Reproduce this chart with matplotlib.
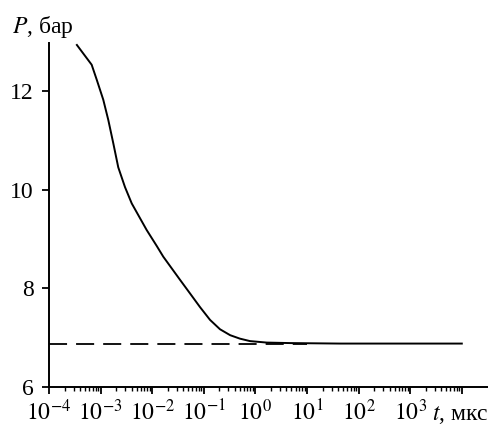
import numpy as np
import matplotlib
matplotlib.use("Agg")
import matplotlib.pyplot as plt
from matplotlib.ticker import FixedLocator, FixedFormatter, NullFormatter

plt.rcParams['font.family'] = ['Liberation Serif', 'DejaVu Serif']
plt.rcParams['mathtext.fontset'] = 'stix'

# pressure relaxation curve
t_us = [3.47e-4, 6.71e-4, 8.39e-4, 1.127e-3, 1.41e-3, 1.76e-3, 2.20e-3,
        2.97e-3, 4.01e-3, 5.81e-3, 7.82e-3, 1.22e-2, 1.64e-2, 3.47e-2,
        5.37e-2, 8.43e-2, 0.132, 0.206, 0.324, 0.50, 0.785, 1.66, 4.68,
        43.7, 1.0e4]
p_bar = [12.93, 12.53, 12.23, 11.82, 11.41, 10.94, 10.45,
         10.05, 9.72, 9.42, 9.18, 8.86, 8.64, 8.17,
         7.90, 7.62, 7.36, 7.17, 7.05, 6.98, 6.93, 6.90, 6.89,
         6.88, 6.88]

# equilibrium level (dashed)
t_eq = [1e-4, 10.0]
p_eq = [6.875, 6.875]

decades = [-4, -3, -2, -1, 0, 1, 2, 3, 4]
y_ticks = [6, 8, 10, 12]

fig = plt.figure(figsize=(4.89, 4.25), dpi=100)
ax = fig.add_axes([49 / 489, 1 - 387 / 425, 1 - 49 / 489, (387 - 43) / 425])

ax.plot(t_us, p_bar, color='black', lw=1.4)
ax.plot(t_eq, p_eq, color='black', lw=1.3, linestyle=(0, (10, 5)))

ax.set_xscale('log')
ax.set_xlim(1e-4, 10 ** 4.527)
ax.set_ylim(6, 12.97)

major = [10.0 ** d for d in decades]
minor = [m * 10.0 ** d for d in decades[:-1] for m in range(2, 10)]
ax.xaxis.set_major_locator(FixedLocator(major))
ax.xaxis.set_major_formatter(FixedFormatter(
    [r'$10^{%d}$' % d for d in decades[:-1]] + ['']))
ax.xaxis.set_minor_locator(FixedLocator(minor))
ax.xaxis.set_minor_formatter(NullFormatter())
ax.set_yticks(y_ticks)

for s in ['top', 'right']:
    ax.spines[s].set_visible(False)
for s in ['left', 'bottom']:
    ax.spines[s].set_linewidth(1.4)

ax.tick_params(axis='x', which='major', direction='out', length=5, width=1.3,
               labelsize=17, pad=4)
ax.tick_params(axis='x', which='minor', direction='out', length=3, width=1.0)
ax.tick_params(axis='y', which='major', direction='out', length=5, width=1.3,
               labelsize=17, pad=6)

fig.text(12 / 489, 1 - 33 / 425, r'$P$, бар', fontsize=17, ha='left',
         va='baseline')
fig.text(432 / 489, 1 - 420 / 425, r'$t$, мкс', fontsize=17, ha='left',
         va='baseline')

fig.savefig('out.png', dpi=100)
